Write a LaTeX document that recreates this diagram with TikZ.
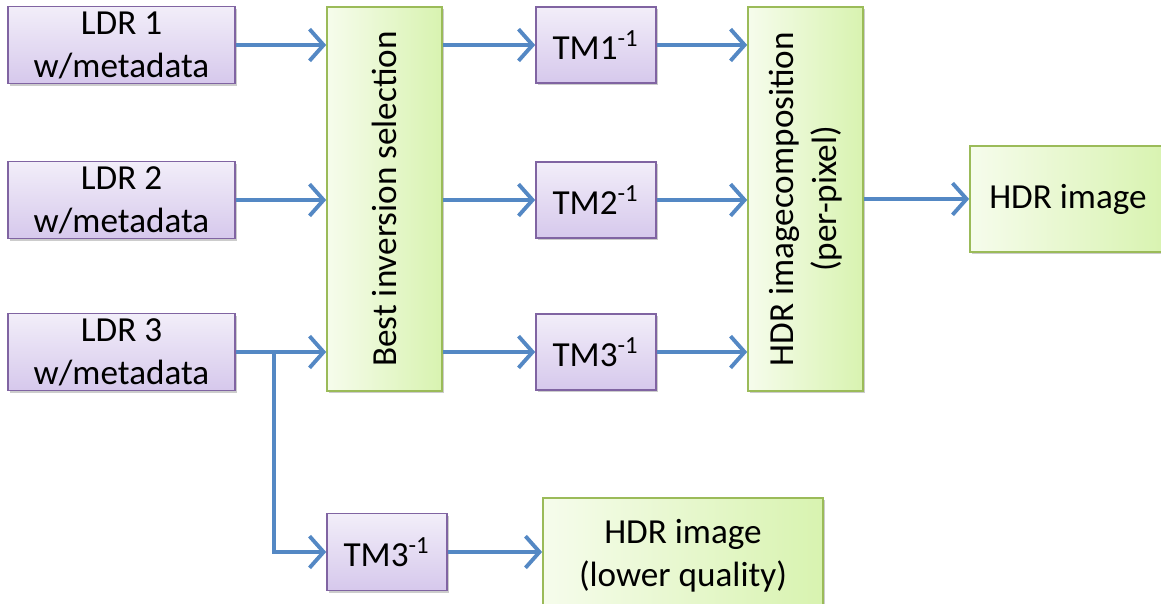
\documentclass[tikz,border=0pt]{standalone}
\usepackage{fontspec}
\setmainfont{Carlito}
\usepackage{tikz}
\usepackage{xcolor}
\usetikzlibrary{positioning, calc, arrows.meta, shadows}

\definecolor{ldrtop}{RGB}{242,238,249}
\definecolor{ldrbot}{RGB}{214,200,236}
\definecolor{ldrline}{RGB}{128,100,162}
\definecolor{hdrleft}{RGB}{246,252,236}
\definecolor{hdrright}{RGB}{216,243,176}
\definecolor{hdrline}{RGB}{155,187,89}
\definecolor{flowblue}{RGB}{84,136,196}

\begin{document}
\begin{tikzpicture}[x=0.01cm, y=-0.01cm,
        every node/.style={font=\fontsize{10}{12.2}\selectfont, align=center, inner sep=0pt},
        purplebox/.style={draw=ldrline, line width=0.45pt, top color=ldrtop, bottom color=ldrbot,
            drop shadow={shadow xshift=0.6pt, shadow yshift=-0.6pt, fill=black, opacity=0.2}},
        greenbox/.style={draw=hdrline, line width=0.45pt, left color=hdrleft, right color=hdrright,
            drop shadow={shadow xshift=0.6pt, shadow yshift=-0.6pt, fill=black, opacity=0.2}},
        flow/.style={draw=flowblue, line width=1.1pt, -{Straight Barb[length=4pt,width=9pt]}}]
        \useasboundingbox (0,0) rectangle (1161,604);

        % inputs
        \node[purplebox, minimum width=2.27cm, minimum height=0.77cm] (ldr1) at (121.5,45) {LDR 1\\w/metadata};
        \node[purplebox, minimum width=2.27cm, minimum height=0.77cm] (ldr2) at (121.5,200) {LDR 2\\w/metadata};
        \node[purplebox, minimum width=2.27cm, minimum height=0.77cm] (ldr3) at (121.5,352) {LDR 3\\w/metadata};

        % rotated boxes: north is the left side, south the right side
        \node[greenbox, rotate=90, minimum width=3.84cm, minimum height=1.15cm] (sel) at (384.5,199) {Best inversion selection};
        \node[greenbox, rotate=90, minimum width=3.84cm, minimum height=1.15cm] (comp) at (805.5,199) {HDR imagecomposition\\(per-pixel)};

        \node[purplebox, minimum width=1.2cm, minimum height=0.76cm] (tm1) at (596,45) {TM1\textsuperscript{-1}};
        \node[purplebox, minimum width=1.2cm, minimum height=0.76cm] (tm2) at (596,200) {TM2\textsuperscript{-1}};
        \node[purplebox, minimum width=1.2cm, minimum height=0.76cm] (tm3) at (596,352) {TM3\textsuperscript{-1}};

        \node[greenbox, minimum width=1.96cm, minimum height=1.06cm] (hdr) at (1068,199) {HDR image};

        % single exposure path
        \node[purplebox, minimum width=1.2cm, minimum height=0.77cm] (tm3b) at (387,552) {TM3\textsuperscript{-1}};
        \node[greenbox, minimum width=2.8cm, minimum height=1.16cm] (hdrlow) at (683,556) {HDR image\\(lower quality)};

        \draw[flow] (ldr1.east) -- (ldr1.east -| sel.north);
        \draw[flow] (ldr2.east) -- (ldr2.east -| sel.north);
        \draw[flow] (ldr3.east) -- (ldr3.east -| sel.north);
        \draw[flow] (sel.south |- tm1.west) -- (tm1.west);
        \draw[flow] (sel.south |- tm2.west) -- (tm2.west);
        \draw[flow] (sel.south |- tm3.west) -- (tm3.west);
        \draw[flow] (tm1.east) -- (tm1.east -| comp.north);
        \draw[flow] (tm2.east) -- (tm2.east -| comp.north);
        \draw[flow] (tm3.east) -- (tm3.east -| comp.north);
        \draw[flow] (comp.south |- hdr.west) -- (hdr.west);
        \coordinate (split) at ($(ldr3.east)+(38,0)$);
        \draw[flow] (split) |- (tm3b.west);
        \draw[flow] (tm3b.east) -- (tm3b.east -| hdrlow.west);
    \end{tikzpicture}
\end{document}
